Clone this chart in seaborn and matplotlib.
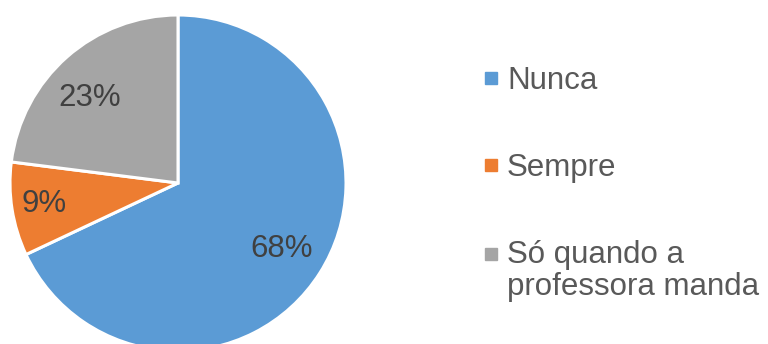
import matplotlib
matplotlib.use("Agg")
import numpy as np
import matplotlib.pyplot as plt
from matplotlib.lines import Line2D
from matplotlib.legend_handler import HandlerLine2D
import seaborn as sns

categories = ['Nunca', 'Sempre', 'Só quando a\nprofessora manda']
values = [68, 9, 23]
colors = ['#5B9BD5', '#ED7D31', '#A5A5A5']

sns.set_theme(style='white')
plt.rcParams['font.family'] = ['Liberation Sans', 'DejaVu Sans']


class ShiftedHandler(HandlerLine2D):
    # lets the marker of a two-line entry sit next to the first line
    def __init__(self, shift, **kw):
        super().__init__(**kw)
        self.shift = shift

    def create_artists(self, legend, orig_handle, xdescent, ydescent,
                       width, height, fontsize, trans):
        arts = super().create_artists(legend, orig_handle, xdescent, ydescent,
                                      width, height, fontsize, trans)
        for a in arts:
            a.set_ydata(np.asarray(a.get_ydata(), float) + self.shift)
        return arts


fig = plt.figure(figsize=(7.68, 3.44), dpi=100)
ax = fig.add_axes([10/768, -7/344, 336/768, 336/344])

wedges, texts, autotexts = ax.pie(
    values, colors=colors, startangle=90, counterclock=False,
    autopct=lambda p: f'{p:.0f}%', pctdistance=0.73,
    textprops=dict(fontsize=22.5, color='#404040'),
    wedgeprops=dict(edgecolor='white', linewidth=2.2))

# nudge labels a little, like the "best fit" placement of the original
x, y = autotexts[1].get_position()
autotexts[1].set_position((x * 0.81 / 0.73, y * 0.81 / 0.73))
x, y = autotexts[2].get_position()
a = np.radians(4.5)
autotexts[2].set_position((x * np.cos(a) - y * np.sin(a), x * np.sin(a) + y * np.cos(a)))

ax.set_xlim(-1, 1)
ax.set_ylim(-1, 1)
ax.set_aspect('equal')

handles = [Line2D([], [], marker='s', ls='', color=c, markersize=8) for c in colors]
leg = fig.legend(handles, categories, loc='upper left',
                 bbox_to_anchor=(482/768, 1 - 66/344), frameon=False,
                 fontsize=22.5, labelcolor='#595959', handlelength=0.6,
                 handletextpad=0.2, labelspacing=1.82, borderpad=0, borderaxespad=0,
                 handler_map={handles[2]: ShiftedHandler(12.2)})
leg.get_texts()[2].set_linespacing(1.08)

fig.savefig('out.png', dpi=100)
